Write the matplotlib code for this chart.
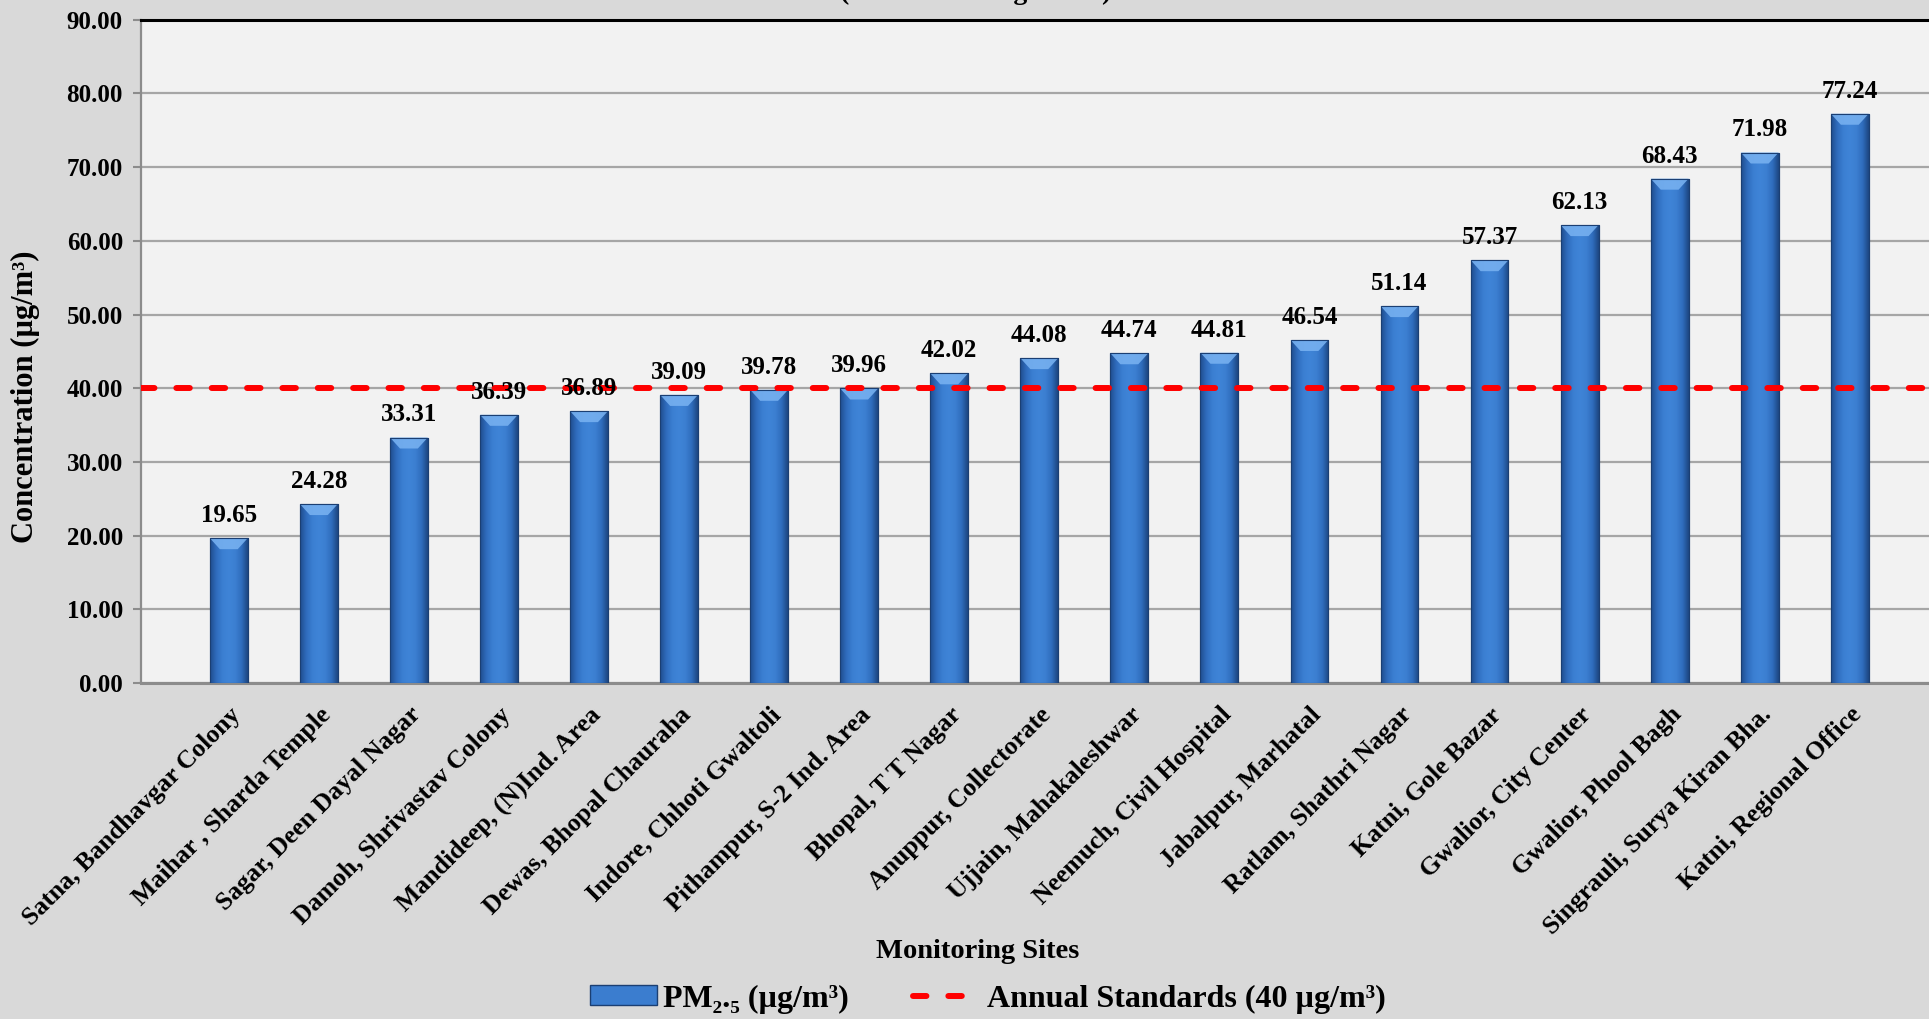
import numpy as np
import matplotlib
matplotlib.use("Agg")
import matplotlib.pyplot as plt
from matplotlib.colors import LinearSegmentedColormap
from matplotlib.patches import Patch, Polygon
from matplotlib.lines import Line2D
import matplotlib.transforms as mtransforms

# ---------------- data ----------------
sites = [
    "Satna, Bandhavgar Colony",
    "Maihar , Sharda Temple",
    "Sagar, Deen Dayal Nagar",
    "Damoh, Shrivastav Colony",
    "Mandideep, (N)Ind. Area",
    "Dewas, Bhopal Chauraha",
    "Indore, Chhoti Gwaltoli",
    "Pithampur, S-2 Ind. Area",
    "Bhopal, T T Nagar",
    "Anuppur, Collectorate",
    "Ujjain, Mahakaleshwar",
    "Neemuch, Civil Hospital",
    "Jabalpur, Marhatal",
    "Ratlam, Shathri Nagar",
    "Katni, Gole Bazar",
    "Gwalior, City Center",
    "Gwalior, Phool Bagh",
    "Singrauli, Surya Kiran Bha.",
    "Katni, Regional Office",
]
pm25 = [19.65, 24.28, 33.31, 36.39, 36.89, 39.09, 39.78, 39.96, 42.02, 44.08,
        44.74, 44.81, 46.54, 51.14, 57.37, 62.13, 68.43, 71.98, 77.24]
annual_standard = 40
yticks = [0, 10, 20, 30, 40, 50, 60, 70, 80, 90]

# ---------------- style ----------------
plt.rcParams['font.family'] = ['Liberation Serif', 'DejaVu Serif']
plt.rcParams['font.weight'] = 'bold'

W, H = 1929, 1019
fig = plt.figure(figsize=(W / 100, H / 100), dpi=100)
fig.patch.set_facecolor('#d9d9d9')

ax_left, ax_right = 141 / W, 1.0
ax_bottom, ax_top = 1 - 683 / H, 1 - 19.7 / H
ax = fig.add_axes([ax_left, ax_bottom, ax_right - ax_left, ax_top - ax_bottom])
ax.set_facecolor('#f2f2f2')

x = np.arange(len(sites))
bar_w = 0.42
bars = ax.bar(x, pm25, width=bar_w, color='#3b7dcf', edgecolor='#1b3f73',
              linewidth=0.8, zorder=3)

XLIM = (-0.975, 18.88)
YLIM = (0, 90)
ax.set_xlim(*XLIM)
ax.set_ylim(*YLIM)

# gradient fill + top bevel for bars
cmap = LinearSegmentedColormap.from_list(
    'barg', ['#1f4c8c', '#2f6cbd', '#3b7fd2', '#3f84d7', '#3c7fd1', '#2f6dbd', '#1d4680'])
grad = np.linspace(0, 1, 256).reshape(1, -1)
fig.canvas.draw()
ax_h_px = ax.get_window_extent().height
ax_w_px = ax.get_window_extent().width
dy = 11 * (YLIM[1] - YLIM[0]) / ax_h_px
dx = 10 * (XLIM[1] - XLIM[0]) / ax_w_px
for b in bars:
    x0, y0, w, h = b.get_x(), b.get_y(), b.get_width(), b.get_height()
    im = ax.imshow(grad, extent=[x0, x0 + w, y0, y0 + h], cmap=cmap,
                   aspect='auto', zorder=3.1, interpolation='bicubic')
    im.set_clip_path(b)
    top = y0 + h
    bev = Polygon([[x0, top], [x0 + w, top], [x0 + w - dx, top - dy], [x0 + dx, top - dy]],
                  closed=True, facecolor='#76b0f0', edgecolor='none', zorder=3.2, alpha=0.9)
    ax.add_patch(bev)
    ax.add_patch(Polygon([[x0, y0], [x0 + w, y0], [x0 + w, top], [x0, top]], closed=True,
                         facecolor='none', edgecolor='#1b3f73', linewidth=0.8, zorder=3.3))
ax.set_aspect('auto')
ax.set_xlim(*XLIM)
ax.set_ylim(*YLIM)

# data labels
for xi, v in zip(x, pm25):
    ax.annotate(f"{v:.2f}", (xi, v), xytext=(0, 8), textcoords='offset points',
                ha='center', va='bottom', fontsize=18, fontweight='bold', zorder=5)

# annual standard line
dash = (0, (2.25, 3.67))
ax.axhline(annual_standard, color='#ff0000', linewidth=4.3, linestyle=dash,
           dash_capstyle='round', zorder=4)

# grid & spines
ax.set_yticks(yticks)
ax.set_yticklabels([f"{t:.2f}" for t in yticks])
ax.yaxis.grid(True, color='#a6a6a6', linewidth=1.6, zorder=0)
ax.set_axisbelow(True)
ax.spines['top'].set_color('black')
ax.spines['top'].set_linewidth(2.2)
ax.spines['right'].set_visible(False)
ax.spines['left'].set_color('#8c8c8c')
ax.spines['left'].set_linewidth(1.6)
ax.spines['bottom'].set_color('#8c8c8c')
ax.spines['bottom'].set_linewidth(2.2)
ax.tick_params(axis='y', length=6, width=1.5, color='#8c8c8c', pad=7, labelsize=18)
ax.tick_params(axis='x', length=0, pad=0)

ax.set_xticks(x)
ax.set_xticklabels(sites, rotation=45, ha='right', va='top', rotation_mode='anchor',
                   fontsize=18.5, fontweight='bold')
offset = mtransforms.ScaledTranslation(0 / 100, -20 / 100, fig.dpi_scale_trans)
for lab in ax.get_xticklabels():
    lab.set_transform(lab.get_transform() + offset)
for lab in ax.get_yticklabels():
    lab.set_fontweight('bold')

# axis titles
fig.text(25 / W, 1 - 397 / H, "Concentration (µg/m³)", rotation=90, ha='center',
         va='center', fontsize=22, fontweight='bold')
fig.text(978 / W, 1 - 951 / H, "Monitoring Sites", ha='center', va='center',
         fontsize=20.5, fontweight='bold')

# cut-off title fragment at the very top
fig.text(0.506, 1 - 5 / H, "(Annual Average 2023)", ha='center', va='bottom',
         fontsize=20, fontweight='bold')

# legend
handles = [
    Patch(facecolor='#3b7dcf', edgecolor='#1b3f73', linewidth=1.0),
    Line2D([0], [0], color='#ff0000', linewidth=4.3, linestyle=dash,
           dash_capstyle='round'),
]
labels = ["PM₂.₅ (µg/m³)", "Annual Standards (40 µg/m³)"]
leg = fig.legend(handles, labels, loc='center', bbox_to_anchor=(0.512, 20 / H), ncol=2,
                 frameon=False, prop={'size': 23, 'weight': 'bold'},
                 handlelength=2.1, handleheight=0.6, handletextpad=0.2,
                 columnspacing=2.0)

fig.savefig("out.png", dpi=100, facecolor=fig.get_facecolor())
